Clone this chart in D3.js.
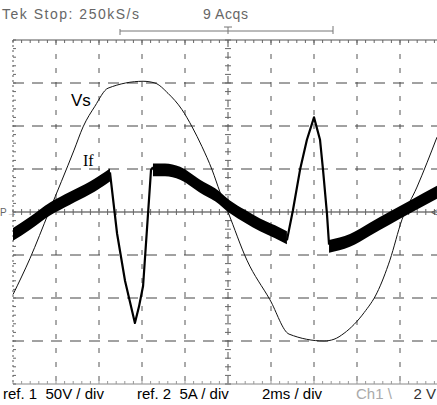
<!DOCTYPE html>
<html>
<head>
<meta charset="utf-8">
<script src="https://cdn.jsdelivr.net/npm/d3@7"></script>
<style>
  body { margin: 0; background: #fff; }
  svg { display: block; }
</style>
</head>
<body>
<svg id="chart" width="437" height="405" font-family="Liberation Sans, Arial, sans-serif"></svg>
<script>
// ref 1: supply voltage Vs, [time ms, volts]
const vsPoints = [
  [0.00, -96], [0.79, -54], [1.67, 0], [2.84, 72], [3.26, 99], [3.81, 123],
  [4.42, 144], [6.05, 152], [6.60, 150], [7.21, 138], [7.86, 119], [8.33, 99],
  [8.79, 76], [9.26, 49], [9.63, 23], [10.00, 0], [10.88, -56], [11.95, -102],
  [12.84, -142], [14.47, -150], [14.93, -148], [15.40, -141], [16.33, -117],
  [16.93, -94], [17.53, -56], [18.09, -9], [18.79, 29], [19.72, 87]
]

// ref 2: current If, [time ms, amps] -- noisy bands and fast transitions
const ifBandA = [[0.00, -2.6], [0.79, -1.3], [1.72, 0.35], [2.65, 1.6], [3.58, 2.8], [4.51, 4.3]]
const ifDip = [
  [4.51, 4.6], [4.84, -2.5], [5.21, -8.0], [5.67, -12.9],
  [5.86, -11.0], [6.05, -8.6], [6.42, 4.9], [6.51, 5.2]
]
const ifBandB = [
  [6.51, 4.9], [7.07, 4.9], [7.77, 4.5], [8.70, 3.0], [9.40, 2.0], [10.09, 0.6],
  [10.79, -0.5], [11.49, -1.5], [12.19, -2.3], [12.74, -3.0]
]
const ifSpike = [
  [12.74, -3.3], [13.02, 0.2], [13.35, 4.9], [13.67, 8.4], [14.00, 11.0],
  [14.28, 8.4], [14.42, 4.9], [14.60, -0.1], [14.70, -3.8]
]
const ifBandC = [[14.70, -4.0], [15.67, -3.3], [16.60, -2.0], [17.53, -0.7], [18.47, 0.6], [19.72, 2.3]]
const ifRipple = 0.75   // half peak-to-peak, A

const timeDivs = d3.range(0, 21, 2)          // 2 ms / div
const voltDivs = d3.range(-200, 201, 50)     // 50 V / div

const svg = d3.select('#chart')

const x = d3.scaleLinear().domain([0, 20]).range([13, 443])
const yV = d3.scaleLinear().domain([-200, 200]).range([384, 40])
const yI = d3.scaleLinear().domain([-20, 20]).range([384, 40])

// graticule
const grid = svg.append('g').attr('class', 'graticule')

grid.selectAll('.vline')
  .data(timeDivs.filter(d => d > 0 && d < 20))
  .join('line')
  .attr('class', 'vline')
  .attr('x1', d => x(d)).attr('x2', d => x(d))
  .attr('y1', yV(200)).attr('y2', yV(-200))
  .attr('stroke', '#555')
  .attr('stroke-width', 1)
  .attr('stroke-dasharray', d => d == 10 ? '7,5' : '5,9')

grid.selectAll('.hline')
  .data(voltDivs.filter(d => d != 0 && Math.abs(d) < 200))
  .join('line')
  .attr('class', 'hline')
  .attr('x1', x(0)).attr('x2', x(20))
  .attr('y1', d => yV(d)).attr('y2', d => yV(d))
  .attr('stroke', '#444')
  .attr('stroke-width', 1)
  .attr('stroke-dasharray', '11,8')

// borders
grid.append('line')
  .attr('x1', x(0)).attr('x2', x(20)).attr('y1', yV(200)).attr('y2', yV(200))
  .attr('stroke', '#555').attr('stroke-width', 1)
grid.append('line')
  .attr('x1', x(0)).attr('x2', x(20)).attr('y1', yV(-200)).attr('y2', yV(-200))
  .attr('stroke', '#888').attr('stroke-width', 1)
grid.append('line')
  .attr('x1', x(0)).attr('x2', x(0)).attr('y1', yV(200)).attr('y2', yV(-200))
  .attr('stroke', '#555').attr('stroke-width', 1).attr('stroke-dasharray', '2,3')

// centre axes
grid.append('line')
  .attr('x1', x(0)).attr('x2', x(20)).attr('y1', yV(0)).attr('y2', yV(0))
  .attr('stroke', '#999').attr('stroke-width', 2)

const minorT = d3.range(0, 20.01, 0.4)
const minorV = d3.range(-200, 200.01, 10)

// minor ticks on the horizontal centre axis, top and bottom borders
grid.selectAll('.tickc')
  .data(minorT)
  .join('line')
  .attr('class', 'tickc')
  .attr('x1', d => x(d)).attr('x2', d => x(d))
  .attr('y1', yV(0) - 3).attr('y2', yV(0) + 3)
  .attr('stroke', '#666')
grid.selectAll('.tickt')
  .data(minorT)
  .join('line')
  .attr('class', 'tickt')
  .attr('x1', d => x(d)).attr('x2', d => x(d))
  .attr('y1', yV(200)).attr('y2', yV(200) + 3)
  .attr('stroke', '#666')
grid.selectAll('.tickb')
  .data(minorT)
  .join('line')
  .attr('class', 'tickb')
  .attr('x1', d => x(d)).attr('x2', d => x(d))
  .attr('y1', yV(-200) - 3).attr('y2', yV(-200))
  .attr('stroke', '#999')

// minor ticks on the vertical centre axis and left border
grid.selectAll('.tickv')
  .data(minorV)
  .join('line')
  .attr('class', 'tickv')
  .attr('x1', x(10) - 3).attr('x2', x(10) + 3)
  .attr('y1', d => yV(d)).attr('y2', d => yV(d))
  .attr('stroke', '#666')
grid.selectAll('.tickl')
  .data(minorV)
  .join('line')
  .attr('class', 'tickl')
  .attr('x1', x(0)).attr('x2', x(0) + 3)
  .attr('y1', d => yV(d)).attr('y2', d => yV(d))
  .attr('stroke', '#666')

// ground markers
svg.append('text')
  .attr('x', 0).attr('y', yV(0) + 4)
  .attr('font-size', 10).attr('fill', '#666')
  .text('P→')
svg.append('text')
  .attr('x', 431).attr('y', yV(0) + 4)
  .attr('font-size', 11).attr('fill', '#555')
  .text('<')

// traces
const plot = svg.append('g')

const vsLine = d3.line()
  .x(d => x(d[0]))
  .y(d => yV(d[1]))
  .curve(d3.curveMonotoneX)

plot.append('path')
  .datum(vsPoints)
  .attr('d', vsLine)
  .attr('fill', 'none')
  .attr('stroke', '#111')
  .attr('stroke-width', 1)

const band = d3.area()
  .x(d => x(d[0]))
  .y0(d => yI(d[1] - ifRipple))
  .y1(d => yI(d[1] + ifRipple))
  .curve(d3.curveMonotoneX)

plot.selectAll('.band')
  .data([ifBandA, ifBandB, ifBandC])
  .join('path')
  .attr('class', 'band')
  .attr('d', band)
  .attr('fill', '#000')

const ifLine = d3.line()
  .x(d => x(d[0]))
  .y(d => yI(d[1]))

plot.selectAll('.fast')
  .data([ifDip, ifSpike])
  .join('path')
  .attr('class', 'fast')
  .attr('d', ifLine)
  .attr('fill', 'none')
  .attr('stroke', '#000')
  .attr('stroke-width', 2.2)
  .attr('stroke-linejoin', 'round')

// trace labels
svg.append('text')
  .attr('x', 71).attr('y', 106)
  .attr('font-size', 17)
  .text('Vs')
svg.append('text')
  .attr('x', 83).attr('y', 166)
  .attr('font-family', 'Liberation Serif, Times New Roman, serif')
  .attr('font-size', 16)
  .text('If')

// header
svg.append('text')
  .attr('x', 2).attr('y', 19)
  .attr('font-size', 14).attr('fill', '#666')
  .attr('textLength', 137).attr('lengthAdjust', 'spacing')
  .text('Tek Stop: 250kS/s')
svg.append('text')
  .attr('x', 203).attr('y', 19)
  .attr('font-size', 14).attr('fill', '#666')
  .attr('textLength', 45).attr('lengthAdjust', 'spacing')
  .text('9 Acqs')

// record window bracket with trigger mark
const head = svg.append('g').attr('stroke', '#777').attr('fill', 'none')
head.append('line').attr('x1', 120).attr('x2', 333).attr('y1', 31).attr('y2', 31)
head.append('line').attr('x1', 120).attr('x2', 120).attr('y1', 29).attr('y2', 35)
head.append('line').attr('x1', 333).attr('x2', 333).attr('y1', 26).attr('y2', 34)
head.append('line').attr('x1', 224).attr('x2', 232).attr('y1', 27).attr('y2', 27)
head.append('line').attr('x1', 228).attr('x2', 228).attr('y1', 27).attr('y2', 34)

// footer
const foot = [
  { text: 'ref. 1  50V / div', x: 3, anchor: 'start', fill: '#000' },
  { text: 'ref. 2  5A / div', x: 137, anchor: 'start', fill: '#000' },
  { text: '2ms / div', x: 262, anchor: 'start', fill: '#000' },
  { text: 'Ch1 \\', x: 356, anchor: 'start', fill: '#aaa' },
  { text: '2 V', x: 436, anchor: 'end', fill: '#333' }
]
svg.selectAll('.foot')
  .data(foot)
  .join('text')
  .attr('class', 'foot')
  .attr('x', d => d.x).attr('y', 399)
  .attr('text-anchor', d => d.anchor)
  .attr('font-size', 15)
  .attr('fill', d => d.fill)
  .style('white-space', 'pre')
  .text(d => d.text)
</script>
</body>
</html>
